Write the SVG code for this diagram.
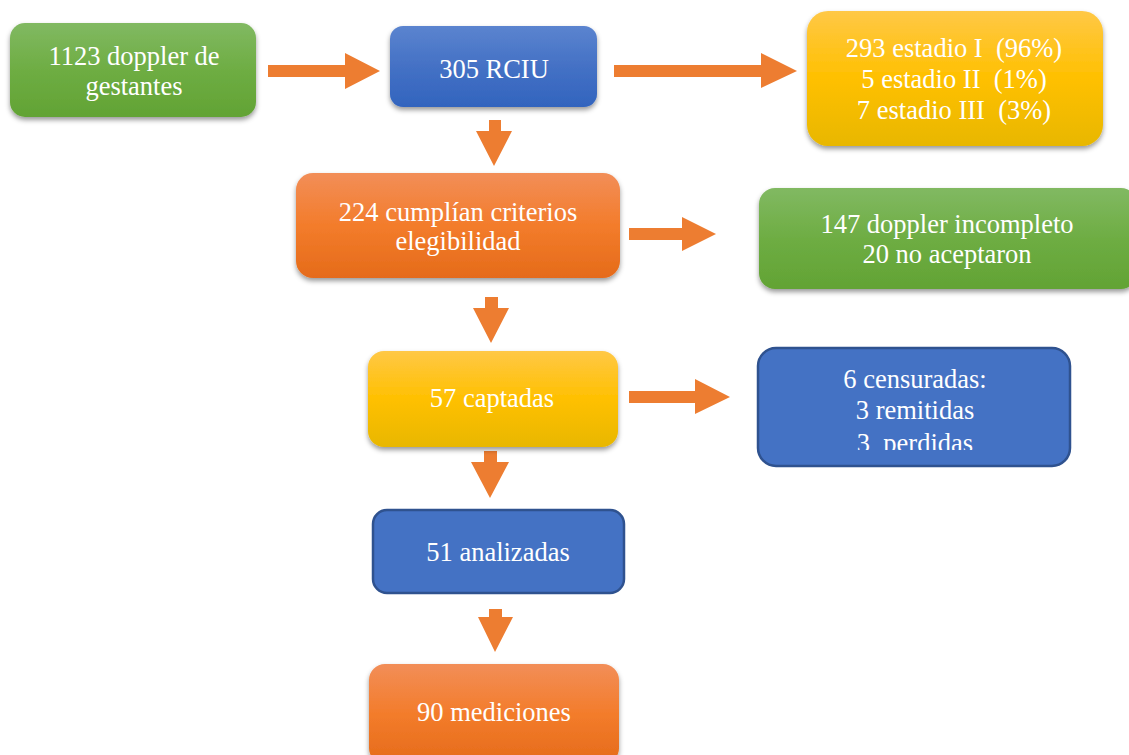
<svg xmlns="http://www.w3.org/2000/svg" width="1129" height="755" viewBox="0 0 1129 755">
<style>
text{font-family:"Liberation Serif","Times New Roman",serif;font-size:26.5px;fill:#fff;text-anchor:middle;white-space:pre}
.arrow{fill:#ED7D31}
.flat{fill:#4472C4;stroke:#2F528F;stroke-width:2.5}
</style>
<defs>
<linearGradient id="gGreen" x1="0" y1="0" x2="0" y2="1"><stop offset="0" stop-color="#81B962"/><stop offset="0.5" stop-color="#6EAD43"/><stop offset="1" stop-color="#62A334"/></linearGradient>
<linearGradient id="gBlue" x1="0" y1="0" x2="0" y2="1"><stop offset="0" stop-color="#5B84CF"/><stop offset="0.5" stop-color="#4471C5"/><stop offset="1" stop-color="#3264BE"/></linearGradient>
<linearGradient id="gYellow" x1="0" y1="0" x2="0" y2="1"><stop offset="0" stop-color="#FFC846"/><stop offset="0.5" stop-color="#FFC000"/><stop offset="1" stop-color="#E8B700"/></linearGradient>
<linearGradient id="gOrange" x1="0" y1="0" x2="0" y2="1"><stop offset="0" stop-color="#F28E58"/><stop offset="0.5" stop-color="#F37C2B"/><stop offset="1" stop-color="#E56B1A"/></linearGradient>
<filter id="sh" x="-10%" y="-10%" width="120%" height="130%"><feDropShadow dx="0" dy="3" stdDeviation="2.5" flood-color="#000" flood-opacity="0.4"/></filter>
<clipPath id="clip7"><rect x="757" y="347" width="314" height="103"/></clipPath>
</defs>

<g id="connectors">
<polygon class="arrow" points="268,65 345,65 345,53 380,71 345,89 345,77 268,77"/>
<polygon class="arrow" points="614,65 761,65 761,53 797,71 761,88 761,77 614,77"/>
<polygon class="arrow" points="489,120 501,120 501,131 512,131 494,166 476,131 489,131"/>
<polygon class="arrow" points="629,228 682,228 682,217 716,234 682,251 682,240 629,240"/>
<polygon class="arrow" points="485,297 498,297 498,308 509,308 491,343 473,308 485,308"/>
<polygon class="arrow" points="629,391 695,391 695,379 730,397 695,414 695,403 629,403"/>
<polygon class="arrow" points="484,451 497,451 497,462 509,462 490,498 471,462 484,462"/>
<polygon class="arrow" points="489,609 502,609 502,617 513,617 495,652 478,617 489,617"/>
</g>

<g id="n1"><rect x="10" y="23" width="246" height="94" rx="15" fill="url(#gGreen)" filter="url(#sh)"/>
<text x="134" y="65">1123 doppler de</text><text x="134" y="95">gestantes</text></g>

<g id="n2"><rect x="390" y="26" width="207" height="81" rx="13" fill="url(#gBlue)" filter="url(#sh)"/>
<text x="494" y="78">305 RCIU</text></g>

<g id="n3"><rect x="807" y="11" width="296" height="135" rx="21" fill="url(#gYellow)" filter="url(#sh)"/>
<text x="954" y="57">293 estadio I  (96%)</text><text x="954" y="88">5 estadio II  (1%)</text><text x="954" y="119">7 estadio III  (3%)</text></g>

<g id="n4"><rect x="296" y="173" width="324" height="105" rx="17" fill="url(#gOrange)" filter="url(#sh)"/>
<text x="458" y="221">224 cumplían criterios</text><text x="458" y="250">elegibilidad</text></g>

<g id="n5"><rect x="759" y="188" width="378" height="101" rx="16" fill="url(#gGreen)" filter="url(#sh)"/>
<text x="947" y="233">147 doppler incompleto</text><text x="947" y="263">20 no aceptaron</text></g>

<g id="n6"><rect x="368" y="351" width="250" height="96" rx="16" fill="url(#gYellow)" filter="url(#sh)"/>
<text x="492" y="407">57 captadas</text></g>

<g id="n7"><rect class="flat" x="758" y="348" width="312" height="118" rx="18"/>
<text x="915" y="388">6 censuradas:</text><text x="915" y="419">3 remitidas</text>
<text x="915" y="452" clip-path="url(#clip7)">3  perdidas</text></g>

<g id="n8"><rect class="flat" x="373" y="510" width="251" height="83" rx="14"/>
<text x="498" y="561">51 analizadas</text></g>

<g id="n9"><rect x="369" y="664" width="250" height="100" rx="16" fill="url(#gOrange)" filter="url(#sh)"/>
<text x="494" y="721">90 mediciones</text></g>
</svg>
